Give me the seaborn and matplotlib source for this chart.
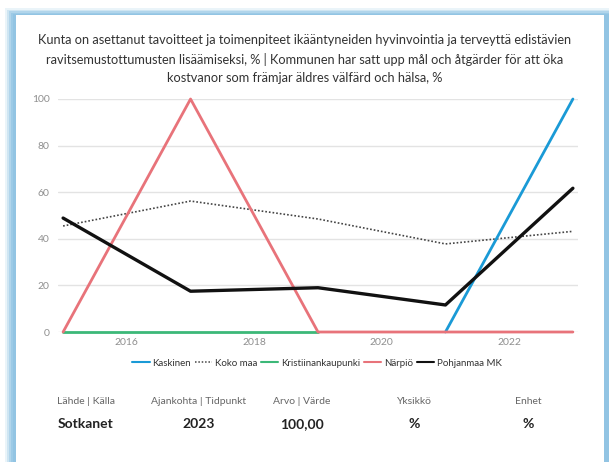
import numpy as np
import pandas as pd
import seaborn as sns
import matplotlib
matplotlib.use("Agg")
import matplotlib.pyplot as plt
from matplotlib.patches import Rectangle
from matplotlib.lines import Line2D

# --- data -------------------------------------------------------------------
years = [2015, 2017, 2019, 2021, 2023]
kaskinen = [np.nan, np.nan, np.nan, 0, 100]
koko_maa = [45.5, 56.2, 48.5, 37.8, 43.2]
kristiinankaupunki = [0, 0, 0, np.nan, np.nan]
narpio = [0, 100, 0, 0, 0]
pohjanmaa = [48.9, 17.5, 19.0, 11.6, 61.7]

series_names = ["Kaskinen", "Koko maa", "Kristiinankaupunki", "Närpiö", "Pohjanmaa MK"]
series_values = [kaskinen, koko_maa, kristiinankaupunki, narpio, pohjanmaa]

y_ticks = [0, 20, 40, 60, 80, 100]
x_ticks = [2016, 2018, 2020, 2022]

title = ("Kunta on asettanut tavoitteet ja toimenpiteet ikääntyneiden hyvinvointia ja terveyttä edistävien\n"
         "ravitsemustottumusten lisäämiseksi, % | Kommunen har satt upp mål och åtgärder för att öka\n"
         "kostvanor som främjar äldres välfärd och hälsa, %")

info_labels = ["Lähde | Källa", "Ajankohta | Tidpunkt", "Arvo | Värde", "Yksikkö", "Enhet"]
info_values = ["Sotkanet", "2023", "100,00", "%", "%"]

# --- styles -----------------------------------------------------------------
styles = {
    "Kaskinen": dict(color="#1a9ad6", lw=2.0, ls="-"),
    "Koko maa": dict(color="#444444", lw=1.2, ls=(0, (1, 1.2))),
    "Kristiinankaupunki": dict(color="#3cb878", lw=2.0, ls="-"),
    "Närpiö": dict(color="#e8737a", lw=2.0, ls="-"),
    "Pohjanmaa MK": dict(color="#111111", lw=2.4, ls="-"),
}

df = pd.DataFrame(
    [(n, y, v) for n, vals in zip(series_names, series_values) for y, v in zip(years, vals)],
    columns=["area", "year", "value"],
).dropna()

sns.set_theme(style="white")
plt.rcParams["font.family"] = ["Lato", "DejaVu Sans"]

W, H = 609, 462
fig = plt.figure(figsize=(W / 100, H / 100), dpi=100)
fig.patch.set_facecolor("white")


def fx(x):
    return x / W


def fy(y):
    return 1 - y / H


# card with soft blue border glow
glow = [(5, 8, 0.18), (7, 9.5, 0.3), (9, 11, 0.45), (11, 12.5, 0.6), (13, 14, 0.75)]
for gx, gy, a in glow:
    fig.patches.append(Rectangle((fx(gx), 0), 1, fy(gy),
                                 transform=fig.transFigure, facecolor="#8fc3e3", alpha=a,
                                 edgecolor="none", zorder=0))
fig.patches.append(Rectangle((fx(16), 0), fx(604 - 16), fy(15),
                             transform=fig.transFigure, facecolor="white",
                             edgecolor="none", zorder=1))

ax = fig.add_axes([fx(58), fy(332), fx(578 - 58), (332 - 99) / H])
ax.set_facecolor("none")
ax.set_zorder(2)

for name in series_names:
    st = styles[name]
    sub = df[df["area"] == name]
    sns.lineplot(data=sub, x="year", y="value", ax=ax, color=st["color"],
                 linewidth=st["lw"], linestyle=st["ls"], legend=False, clip_on=False,
                 zorder=3 if name != "Koko maa" else 2)

ax.set_xlim(2014.92, 2023.08)
ax.set_ylim(0, 100)
ax.set_yticks(y_ticks)
ax.set_xticks(x_ticks)
ax.set_xlabel("")
ax.set_ylabel("")
ax.grid(axis="y", color="#e3e3e3", linewidth=1)
ax.grid(axis="x", visible=False)
for s in ax.spines.values():
    s.set_visible(False)
ax.tick_params(axis="both", length=0, labelsize=7.5, labelcolor="#8f8f8f", pad=4)
ax.tick_params(axis="y", pad=6)

fig.text(0.5, fy(59), title, ha="center", va="center", fontsize=9.2, color="#333333",
         linespacing=1.6, zorder=5)

handles = [Line2D([0], [0], color=styles[n]["color"], lw=1.5 if n != "Koko maa" else 1.1,
                  ls=styles[n]["ls"]) for n in series_names]
fig.legend(handles, series_names, loc="center", bbox_to_anchor=(fx(317), fy(363)), ncol=5,
           frameon=False, fontsize=7, handlelength=1.8, handletextpad=0.3, columnspacing=0.35,
           labelcolor="#333333")

centers = [86, 199, 302, 414, 528]
for cx, lab, val in zip(centers, info_labels, info_values):
    fig.text(fx(cx), fy(402), lab, ha="center", va="center", fontsize=7.5, color="#666666")
    fig.text(fx(cx), fy(424), val, ha="center", va="center", fontsize=10,
             color="#222222", fontweight="bold")

fig.savefig("out.png", dpi=100)
